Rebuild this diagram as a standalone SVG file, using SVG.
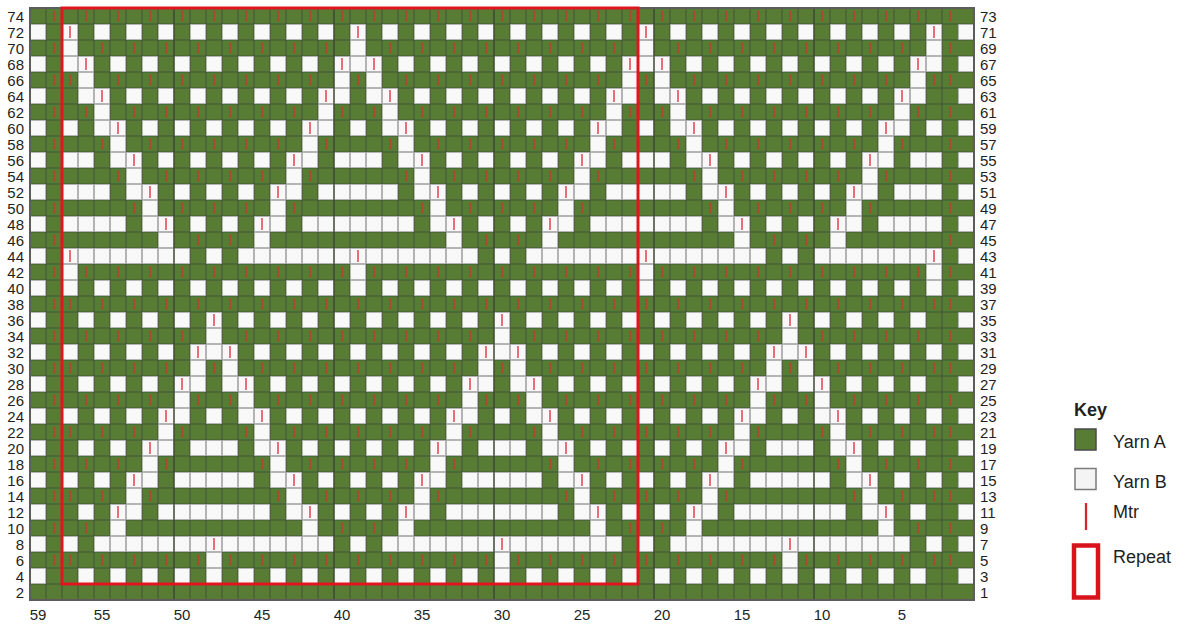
<svg xmlns="http://www.w3.org/2000/svg" width="1187" height="625" viewBox="0 0 1187 625">
<style>
.w{fill:#f8f8f8;stroke:#b4b4b4;stroke-width:1}
.m{fill:none;stroke:#b8402a;stroke-width:1.6}
.n{fill:none;stroke:#e0505a;stroke-width:1.6}
.t{font-family:"Liberation Sans",Arial,sans-serif;font-size:15px;fill:#231f20}
.k{font-family:"Liberation Sans",Arial,sans-serif;font-size:18px;fill:#231f20}
</style>
<defs>
<g id="c2"><path class="w" d="M.5 24.5h15v15h-15zM.5 40.5h15v15h-15zM.5 56.5h15v15h-15zM.5 120.5h15v15h-15zM.5 152.5h15v15h-15zM.5 184.5h15v15h-15zM.5 216.5h15v15h-15zM.5 248.5h15v15h-15zM.5 264.5h15v15h-15zM.5 280.5h15v15h-15zM.5 344.5h15v15h-15zM.5 408.5h15v15h-15zM.5 472.5h15v15h-15zM.5 536.5h15v15h-15z"/><path class="m" d="M8 74v12M8 298v12M8 362v12M8 426v12M8 490v12M8 554v12"/><path class="n" d="M8 26v12M8 250v12"/></g>
<g id="c3"><path class="w" d="M.5 56.5h15v15h-15zM.5 72.5h15v15h-15zM.5 88.5h15v15h-15zM.5 152.5h15v15h-15zM.5 184.5h15v15h-15zM.5 216.5h15v15h-15zM.5 248.5h15v15h-15zM.5 312.5h15v15h-15zM.5 376.5h15v15h-15zM.5 440.5h15v15h-15zM.5 504.5h15v15h-15zM.5 568.5h15v15h-15z"/><path class="m" d="M8 10v12M8 106v12M8 266v12M8 330v12M8 394v12M8 458v12M8 522v12"/><path class="n" d="M8 58v12"/></g>
<g id="c4"><path class="w" d="M.5 24.5h15v15h-15zM.5 88.5h15v15h-15zM.5 104.5h15v15h-15zM.5 120.5h15v15h-15zM.5 184.5h15v15h-15zM.5 216.5h15v15h-15zM.5 248.5h15v15h-15zM.5 280.5h15v15h-15zM.5 344.5h15v15h-15zM.5 408.5h15v15h-15zM.5 472.5h15v15h-15zM.5 536.5h15v15h-15z"/><path class="m" d="M8 42v12M8 138v12M8 298v12M8 362v12M8 426v12M8 490v12M8 554v12"/><path class="n" d="M8 90v12"/></g>
<g id="c5"><path class="w" d="M.5 56.5h15v15h-15zM.5 120.5h15v15h-15zM.5 136.5h15v15h-15zM.5 152.5h15v15h-15zM.5 216.5h15v15h-15zM.5 248.5h15v15h-15zM.5 312.5h15v15h-15zM.5 376.5h15v15h-15zM.5 440.5h15v15h-15zM.5 504.5h15v15h-15zM.5 520.5h15v15h-15zM.5 536.5h15v15h-15zM.5 568.5h15v15h-15z"/><path class="m" d="M8 10v12M8 74v12M8 170v12M8 266v12M8 330v12M8 394v12M8 458v12"/><path class="n" d="M8 122v12M8 506v12"/></g>
<g id="c6"><path class="w" d="M.5 24.5h15v15h-15zM.5 88.5h15v15h-15zM.5 152.5h15v15h-15zM.5 168.5h15v15h-15zM.5 184.5h15v15h-15zM.5 248.5h15v15h-15zM.5 280.5h15v15h-15zM.5 344.5h15v15h-15zM.5 408.5h15v15h-15zM.5 472.5h15v15h-15zM.5 488.5h15v15h-15zM.5 504.5h15v15h-15zM.5 536.5h15v15h-15z"/><path class="m" d="M8 42v12M8 106v12M8 202v12M8 298v12M8 362v12M8 426v12M8 554v12"/><path class="n" d="M8 154v12M8 474v12"/></g>
<g id="c7"><path class="w" d="M.5 56.5h15v15h-15zM.5 120.5h15v15h-15zM.5 184.5h15v15h-15zM.5 200.5h15v15h-15zM.5 216.5h15v15h-15zM.5 248.5h15v15h-15zM.5 312.5h15v15h-15zM.5 376.5h15v15h-15zM.5 440.5h15v15h-15zM.5 456.5h15v15h-15zM.5 472.5h15v15h-15zM.5 536.5h15v15h-15zM.5 568.5h15v15h-15z"/><path class="m" d="M8 10v12M8 74v12M8 138v12M8 266v12M8 330v12M8 394v12M8 490v12"/><path class="n" d="M8 186v12M8 442v12"/></g>
<g id="c8"><path class="w" d="M.5 24.5h15v15h-15zM.5 88.5h15v15h-15zM.5 152.5h15v15h-15zM.5 216.5h15v15h-15zM.5 232.5h15v15h-15zM.5 248.5h15v15h-15zM.5 280.5h15v15h-15zM.5 344.5h15v15h-15zM.5 408.5h15v15h-15zM.5 424.5h15v15h-15zM.5 440.5h15v15h-15zM.5 504.5h15v15h-15zM.5 536.5h15v15h-15z"/><path class="m" d="M8 42v12M8 106v12M8 170v12M8 298v12M8 362v12M8 458v12M8 554v12"/><path class="n" d="M8 218v12M8 410v12"/></g>
<g id="c9"><path class="w" d="M.5 56.5h15v15h-15zM.5 120.5h15v15h-15zM.5 184.5h15v15h-15zM.5 248.5h15v15h-15zM.5 312.5h15v15h-15zM.5 376.5h15v15h-15zM.5 392.5h15v15h-15zM.5 408.5h15v15h-15zM.5 472.5h15v15h-15zM.5 504.5h15v15h-15zM.5 536.5h15v15h-15zM.5 568.5h15v15h-15z"/><path class="m" d="M8 10v12M8 74v12M8 138v12M8 202v12M8 266v12M8 330v12M8 426v12"/><path class="n" d="M8 378v12"/></g>
<g id="c10"><path class="w" d="M.5 24.5h15v15h-15zM.5 88.5h15v15h-15zM.5 152.5h15v15h-15zM.5 216.5h15v15h-15zM.5 280.5h15v15h-15zM.5 344.5h15v15h-15zM.5 360.5h15v15h-15zM.5 376.5h15v15h-15zM.5 440.5h15v15h-15zM.5 472.5h15v15h-15zM.5 504.5h15v15h-15zM.5 536.5h15v15h-15z"/><path class="m" d="M8 42v12M8 106v12M8 170v12M8 234v12M8 298v12M8 394v12M8 554v12"/><path class="n" d="M8 346v12"/></g>
<g id="c11"><path class="w" d="M.5 56.5h15v15h-15zM.5 120.5h15v15h-15zM.5 184.5h15v15h-15zM.5 248.5h15v15h-15zM.5 312.5h15v15h-15zM.5 328.5h15v15h-15zM.5 344.5h15v15h-15zM.5 408.5h15v15h-15zM.5 440.5h15v15h-15zM.5 472.5h15v15h-15zM.5 504.5h15v15h-15zM.5 536.5h15v15h-15zM.5 552.5h15v15h-15zM.5 568.5h15v15h-15z"/><path class="m" d="M8 10v12M8 74v12M8 138v12M8 202v12M8 266v12M8 362v12"/><path class="n" d="M8 314v12M8 538v12"/></g>
<g id="e0"><path class="w" d="M.5 24.5h15v15h-15zM.5 56.5h15v15h-15zM.5 88.5h15v15h-15zM.5 120.5h15v15h-15zM.5 152.5h15v15h-15zM.5 184.5h15v15h-15zM.5 216.5h15v15h-15zM.5 248.5h15v15h-15zM.5 280.5h15v15h-15zM.5 312.5h15v15h-15zM.5 344.5h15v15h-15zM.5 376.5h15v15h-15zM.5 408.5h15v15h-15zM.5 440.5h15v15h-15zM.5 472.5h15v15h-15zM.5 504.5h15v15h-15zM.5 536.5h15v15h-15zM.5 568.5h15v15h-15z"/></g>
<g id="e1"><path class="m" d="M8 10v12M8 42v12M8 74v12M8 106v12M8 138v12M8 170v12M8 202v12M8 234v12M8 266v12M8 298v12M8 330v12M8 362v12M8 394v12M8 426v12M8 458v12M8 490v12M8 522v12M8 554v12"/></g>
</defs>
<rect width="1187" height="625" fill="#ffffff"/>
<g id="chart">
<rect x="30" y="8" width="944" height="592" fill="#597c34"/>
<path fill="none" stroke="#43523a" stroke-width="1" d="M46 8v592m16-592v592m16-592v592m16-592v592m16-592v592m16-592v592m16-592v592m16-592v592m16-592v592m16-592v592m16-592v592m16-592v592m16-592v592m16-592v592m16-592v592m16-592v592m16-592v592m16-592v592m16-592v592m16-592v592m16-592v592m16-592v592m16-592v592m16-592v592m16-592v592m16-592v592m16-592v592m16-592v592m16-592v592m16-592v592m16-592v592m16-592v592m16-592v592m16-592v592m16-592v592m16-592v592m16-592v592m16-592v592m16-592v592m16-592v592m16-592v592m16-592v592m16-592v592m16-592v592m16-592v592m16-592v592m16-592v592m16-592v592m16-592v592m16-592v592m16-592v592m16-592v592m16-592v592m16-592v592m16-592v592m16-592v592m16-592v592M30 24h944m-944 16h944m-944 16h944m-944 16h944m-944 16h944m-944 16h944m-944 16h944m-944 16h944m-944 16h944m-944 16h944m-944 16h944m-944 16h944m-944 16h944m-944 16h944m-944 16h944m-944 16h944m-944 16h944m-944 16h944m-944 16h944m-944 16h944m-944 16h944m-944 16h944m-944 16h944m-944 16h944m-944 16h944m-944 16h944m-944 16h944m-944 16h944m-944 16h944m-944 16h944m-944 16h944m-944 16h944m-944 16h944m-944 16h944m-944 16h944m-944 16h944"/>
<use href="#e0" x="30"/><use href="#e1" x="46"/>
<use href="#c2" x="62"/><use href="#c3" x="78"/><use href="#c4" x="94"/><use href="#c5" x="110"/><use href="#c6" x="126"/><use href="#c7" x="142"/><use href="#c8" x="158"/><use href="#c9" x="174"/><use href="#c10" x="190"/><use href="#c11" x="206"/>
<use href="#c10" x="222"/><use href="#c9" x="238"/><use href="#c8" x="254"/><use href="#c7" x="270"/><use href="#c6" x="286"/><use href="#c5" x="302"/><use href="#c4" x="318"/><use href="#c3" x="334"/>
<use href="#c2" x="350"/><use href="#c3" x="366"/><use href="#c4" x="382"/><use href="#c5" x="398"/><use href="#c6" x="414"/><use href="#c7" x="430"/><use href="#c8" x="446"/><use href="#c9" x="462"/><use href="#c10" x="478"/><use href="#c11" x="494"/>
<use href="#c10" x="510"/><use href="#c9" x="526"/><use href="#c8" x="542"/><use href="#c7" x="558"/><use href="#c6" x="574"/><use href="#c5" x="590"/><use href="#c4" x="606"/><use href="#c3" x="622"/>
<use href="#c2" x="638"/><use href="#c3" x="654"/><use href="#c4" x="670"/><use href="#c5" x="686"/><use href="#c6" x="702"/><use href="#c7" x="718"/><use href="#c8" x="734"/><use href="#c9" x="750"/><use href="#c10" x="766"/><use href="#c11" x="782"/>
<use href="#c10" x="798"/><use href="#c9" x="814"/><use href="#c8" x="830"/><use href="#c7" x="846"/><use href="#c6" x="862"/><use href="#c5" x="878"/><use href="#c4" x="894"/><use href="#c3" x="910"/>
<use href="#c2" x="926"/><use href="#e1" x="942"/><use href="#e0" x="958"/>
<path fill="none" stroke="#3e4a33" stroke-width="1.2" d="M174 8v592M334 8v592M494 8v592M654 8v592M814 8v592"/>
<rect x="30" y="8" width="944" height="592" fill="none" stroke="#5c5c5c" stroke-width="2"/>
<rect id="repeat" x="62" y="8" width="576" height="576" fill="none" stroke="#e0161f" stroke-width="3"/>
</g>
<g id="left-labels" class="t" text-anchor="end">
<text x="24" y="22">74</text><text x="24" y="38">72</text><text x="24" y="54">70</text><text x="24" y="70">68</text><text x="24" y="86">66</text><text x="24" y="102">64</text><text x="24" y="118">62</text><text x="24" y="134">60</text><text x="24" y="150">58</text><text x="24" y="166">56</text><text x="24" y="182">54</text><text x="24" y="198">52</text><text x="24" y="214">50</text><text x="24" y="230">48</text><text x="24" y="246">46</text><text x="24" y="262">44</text><text x="24" y="278">42</text><text x="24" y="294">40</text><text x="24" y="310">38</text><text x="24" y="326">36</text><text x="24" y="342">34</text><text x="24" y="358">32</text><text x="24" y="374">30</text><text x="24" y="390">28</text><text x="24" y="406">26</text><text x="24" y="422">24</text><text x="24" y="438">22</text><text x="24" y="454">20</text><text x="24" y="470">18</text><text x="24" y="486">16</text><text x="24" y="502">14</text><text x="24" y="518">12</text><text x="24" y="534">10</text><text x="24" y="550">8</text><text x="24" y="566">6</text><text x="24" y="582">4</text><text x="24" y="598">2</text>
</g>
<g id="right-labels" class="t">
<text x="980" y="22">73</text><text x="980" y="38">71</text><text x="980" y="54">69</text><text x="980" y="70">67</text><text x="980" y="86">65</text><text x="980" y="102">63</text><text x="980" y="118">61</text><text x="980" y="134">59</text><text x="980" y="150">57</text><text x="980" y="166">55</text><text x="980" y="182">53</text><text x="980" y="198">51</text><text x="980" y="214">49</text><text x="980" y="230">47</text><text x="980" y="246">45</text><text x="980" y="262">43</text><text x="980" y="278">41</text><text x="980" y="294">39</text><text x="980" y="310">37</text><text x="980" y="326">35</text><text x="980" y="342">33</text><text x="980" y="358">31</text><text x="980" y="374">29</text><text x="980" y="390">27</text><text x="980" y="406">25</text><text x="980" y="422">23</text><text x="980" y="438">21</text><text x="980" y="454">19</text><text x="980" y="470">17</text><text x="980" y="486">15</text><text x="980" y="502">13</text><text x="980" y="518">11</text><text x="980" y="534">9</text><text x="980" y="550">7</text><text x="980" y="566">5</text><text x="980" y="582">3</text><text x="980" y="598">1</text>
</g>
<g id="bottom-labels" class="t" text-anchor="middle">
<text x="38" y="620">59</text><text x="102" y="620">55</text><text x="182" y="620">50</text><text x="262" y="620">45</text><text x="342" y="620">40</text><text x="422" y="620">35</text><text x="502" y="620">30</text><text x="582" y="620">25</text><text x="662" y="620">20</text><text x="742" y="620">15</text><text x="822" y="620">10</text><text x="902" y="620">5</text>
</g>
<g id="key">
<text class="k" x="1074" y="416" font-weight="bold">Key</text>
<g id="key-yarn-a"><rect x="1075" y="429" width="21" height="21" fill="#597c34" stroke="#4a4a4a" stroke-width="1.5"/><text class="k" x="1113" y="448">Yarn A</text></g>
<g id="key-yarn-b"><rect x="1075" y="468.5" width="21" height="21" fill="#f4f4f4" stroke="#7a7a7a" stroke-width="1.5"/><text class="k" x="1113" y="487.5">Yarn B</text></g>
<g id="key-mtr"><path d="M1086 503v27" stroke="#d9262e" stroke-width="2.3"/><text class="k" x="1113" y="518">Mtr</text></g>
<g id="key-repeat"><rect x="1074" y="545.5" width="24" height="52" fill="none" stroke="#d7141c" stroke-width="4.5"/><text class="k" x="1113" y="563">Repeat</text></g>
</g>
</svg>
